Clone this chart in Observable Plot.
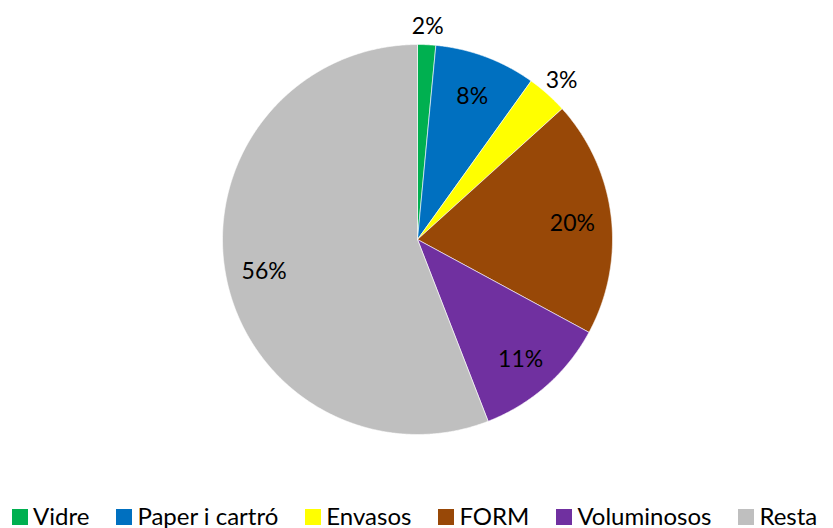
<!DOCTYPE html>
<html><head><meta charset="utf-8">
<script src="https://cdn.jsdelivr.net/npm/d3@7"></script>
<script src="https://cdn.jsdelivr.net/npm/@observablehq/plot@0.6"></script>
<style>
body{margin:0;background:#fff;font-family:Lato,sans-serif;overflow:hidden;width:833px;height:528px}
#legend{position:relative;display:flex;gap:27px;padding-left:12px;height:28px;font-size:24px;line-height:28px;color:#000;white-space:nowrap}
#legend .item{display:flex;align-items:center;gap:5px}
#legend .sw{width:16px;height:16px;display:inline-block;position:relative;top:3px}
#legend span.t{position:relative;top:2px}
</style></head><body>
<div id="chart"></div>
<div id="legend"></div>
<script>
const categories = ["Vidre", "Paper i cartró", "Envasos", "FORM", "Voluminosos", "Resta"];
const values = [1.5, 8.4, 3.4, 19.6, 11.2, 55.9];
const colors = ["#00B050", "#0070C0", "#FFFF00", "#984807", "#7030A0", "#BFBFBF"];

const total = d3.sum(values);
const arcs = d3.pie().sort(null).value(d => d)(values);

// slice polygons (computed from the data angles)
const pts = [];
arcs.forEach((a, i) => {
  const cat = categories[i];
  pts.push({cat, x: 0, y: 0});
  const n = Math.max(2, Math.ceil((a.endAngle - a.startAngle) / 0.005));
  for (let k = 0; k <= n; k++) {
    const t = a.startAngle + (a.endAngle - a.startAngle) * k / n;
    pts.push({cat, x: Math.sin(t), y: Math.cos(t)});
  }
  pts.push({cat, x: 0, y: 0});
});

const labels = arcs.map((a, i) => {
  const mid = (a.startAngle + a.endAngle) / 2;
  const pct = values[i] / total * 100;
  const r = pct < 5 ? 1.11 : 0.8;
  return {x: r * Math.sin(mid), y: r * Math.cos(mid), text: Math.round(pct) + "%"};
});

const chart = Plot.plot({
  width: 833,
  height: 500,
  margin: 0,
  style: {background: "white", fontFamily: "Lato, sans-serif"},
  x: {domain: [-1, 1], range: [222, 612], axis: null},
  y: {domain: [-1, 1], range: [434, 44], axis: null},
  color: {domain: categories, range: colors},
  marks: [
    Plot.line(pts, {x: "x", y: "y", z: "cat", fill: "cat", stroke: "white", strokeWidth: 0.6, curve: "linear"}),
    Plot.text(labels, {x: "x", y: "y", text: "text", fontSize: 23, dy: 3, fill: "black"})
  ]
});
document.getElementById("chart").appendChild(chart);

const legend = d3.select("#legend");
categories.forEach((c, i) => {
  const it = legend.append("div").attr("class", "item");
  it.append("span").attr("class", "sw").style("background", colors[i]);
  it.append("span").attr("class", "t").text(c);
});
</script>
</body></html>
